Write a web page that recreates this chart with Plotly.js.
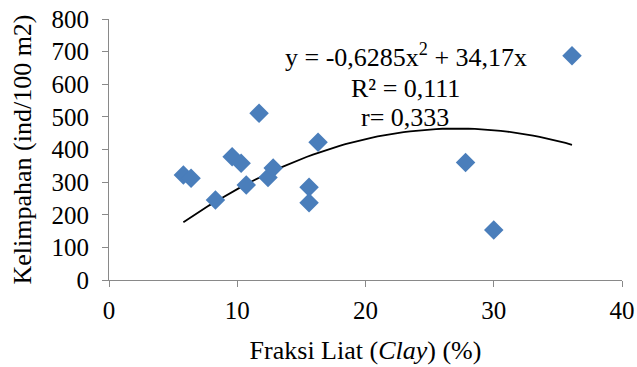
<!DOCTYPE html>
<html><head><meta charset="utf-8">
<script src="https://cdn.plot.ly/plotly-3.0.1.min.js"></script>
<style>html,body{margin:0;padding:0;background:#fff;}#chart{width:637px;height:367px;}</style>
</head><body><div id="chart"></div>
<script>
const clay = [5.8, 6.4, 8.3, 9.6, 10.3, 10.7, 11.7, 12.4, 12.8, 15.6, 15.6, 16.3, 27.8, 30.0, 36.1];
const abundance = [322, 312, 245, 378, 358, 291, 511, 314, 343, 284, 237, 422, 360, 153, 687];
// trendline coefficients as printed on the chart: y = a*x^2 + b*x
const trendCoef = [-0.6285, 34.17];
const trendRange = [5.8, 36.1];
const xTicks = [0, 10, 20, 30, 40];
const yTicks = [0, 100, 200, 300, 400, 500, 600, 700, 800];

const tx = [], ty = [];
const n = 60;
for (let i = 0; i <= n; i++) {
  const x = trendRange[0] + (trendRange[1] - trendRange[0]) * i / n;
  tx.push(x);
  ty.push(trendCoef[0] * x * x + trendCoef[1] * x);
}

const fam = 'Liberation Serif, Times New Roman, serif';
const tickFont = {family: fam, size: 25, color: '#000'};
const titleFont = {family: fam, size: 26, color: '#000'};
const data = [
  {x: tx, y: ty, mode: 'lines', line: {color: '#000', width: 1.8}, hoverinfo: 'skip'},
  {x: clay, y: abundance, mode: 'markers', type: 'scatter',
   marker: {symbol: 'diamond', size: 15, color: '#4a7ebb', line: {width: 0}}}
];
const layout = {
  width: 637, height: 367,
  margin: {l: 109, r: 15, t: 19, b: 87},
  showlegend: false,
  paper_bgcolor: '#fff', plot_bgcolor: '#fff',
  font: titleFont,
  xaxis: {range: [0, 40], tickvals: xTicks, showgrid: false, zeroline: false,
    showline: true, linecolor: '#898989', linewidth: 1,
    ticks: 'outside', ticklen: 6, tickcolor: '#898989',
    tickfont: tickFont, ticklabelstandoff: 2,
    title: {text: 'Fraksi Liat (<i>Clay</i>) (%)', font: titleFont, standoff: 17}},
  yaxis: {range: [0, 800], tickvals: yTicks, showgrid: false, zeroline: false,
    showline: true, linecolor: '#898989', linewidth: 1,
    ticks: 'outside', ticklen: 6, tickcolor: '#898989',
    tickfont: tickFont, ticklabelstandoff: 8,
    title: {text: 'Kelimpahan (ind/100 m2)', font: titleFont, standoff: 12}},
  annotations: [
    {x: 406, y: 56, text: 'y = -0,6285x<sup>2</sup> + 34,17x', showarrow: false, font: titleFont},
    {x: 405, y: 88, text: 'R² = 0,111', showarrow: false, font: titleFont},
    {x: 405, y: 117, text: 'r= 0,333', showarrow: false, font: titleFont}
  ]
};
// convert pixel positions of annotations into paper coords
const pw = 637 - 109 - 15, ph = 367 - 19 - 87;
layout.annotations.forEach(a => {
  a.xref = 'paper'; a.yref = 'paper';
  a.x = (a.x - 109) / pw;
  a.y = 1 - (a.y - 19) / ph;
  a.xanchor = 'center'; a.yanchor = 'middle';
});
Plotly.newPlot('chart', data, layout, {displayModeBar: false, staticPlot: true});
</script></body></html>
